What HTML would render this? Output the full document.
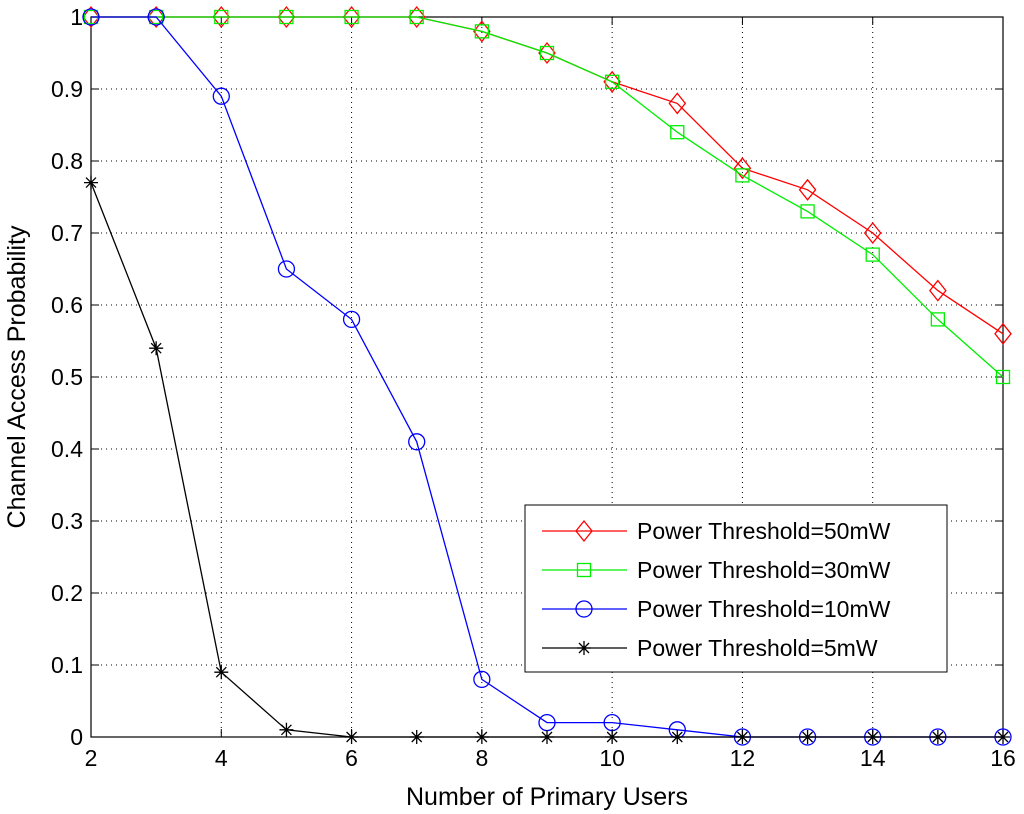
<!DOCTYPE html>
<html><head><meta charset="utf-8"><style>
html,body{margin:0;padding:0;background:#fff;}
svg{display:block;font-family:"Liberation Sans",Arial,sans-serif;}
</style></head><body>
<svg id="chart" width="1024" height="814" xmlns="http://www.w3.org/2000/svg"></svg>
<script>
const categories=[2,3,4,5,6,7,8,9,10,11,12,13,14,15,16];
const s50=[1,1,1,1,1,1,0.98,0.95,0.91,0.88,0.79,0.76,0.70,0.62,0.56];
const s30=[1,1,1,1,1,1,0.98,0.95,0.91,0.84,0.78,0.73,0.67,0.58,0.50];
const s10=[1,1,0.89,0.65,0.58,0.41,0.08,0.02,0.02,0.01,0,0,0,0,0];
const s5=[0.77,0.54,0.09,0.01,0,0,0,0,0,0,0,0,0,0,0];
const xTicks=[2,4,6,8,10,12,14,16];
const yTicks=[0,0.1,0.2,0.3,0.4,0.5,0.6,0.7,0.8,0.9,1];
const yTickLabels=["0","0.1","0.2","0.3","0.4","0.5","0.6","0.7","0.8","0.9","1"];
const seriesNames=["Power Threshold=50mW","Power Threshold=30mW","Power Threshold=10mW","Power Threshold=5mW"];

const L=91,R=1003,T=17,B=737;
const X=v=>L+(v-2)/(16-2)*(R-L);
const Y=v=>B-v*(B-T);
const NS="http://www.w3.org/2000/svg";
const svg=document.getElementById('chart');
function mk(tag,attrs,parent){const e=document.createElementNS(NS,tag);for(const k in attrs)e.setAttribute(k,attrs[k]);(parent||svg).appendChild(e);return e;}

xTicks.forEach(t=>{if(t>2&&t<16){const g=mk('line',{x1:X(t),x2:X(t),y1:T,y2:B,stroke:'#000','stroke-width':1,'stroke-dasharray':'1,4'});

}});
yTicks.forEach(t=>{if(t>0&&t<1){const g=mk('line',{x1:L,x2:R,y1:Y(t),y2:Y(t),stroke:'#000','stroke-width':1,'stroke-dasharray':'1,4'});

}});
const frame=mk('rect',{x:L,y:T,width:R-L,height:B-T,fill:'none',stroke:'#000','stroke-width':1.2});


xTicks.forEach(t=>{
 mk('line',{x1:X(t),x2:X(t),y1:B,y2:B-8,stroke:'#000'});
 mk('line',{x1:X(t),x2:X(t),y1:T,y2:T+8,stroke:'#000'});
 const tx=mk('text',{x:X(t),y:B+29,'font-size':23,'text-anchor':'middle'});tx.textContent=t;
 
 
});
yTicks.forEach((t,i)=>{
 mk('line',{x1:L,x2:L+8,y1:Y(t),y2:Y(t),stroke:'#000'});
 mk('line',{x1:R,x2:R-8,y1:Y(t),y2:Y(t),stroke:'#000'});
 const tx=mk('text',{x:L-8,y:Y(t)+8,'font-size':23,'text-anchor':'end'});tx.textContent=yTickLabels[i];
 
 
});
const xt=mk('text',{x:(L+R)/2,y:805,'font-size':25,'text-anchor':'middle'});xt.textContent='Number of Primary Users';


const yt=mk('text',{x:0,y:0,'font-size':25,'text-anchor':'middle',transform:`translate(25,${(T+B)/2}) rotate(-90)`});yt.textContent='Channel Access Probability';



function marker(type,x,y,color,g){
 if(type==='d')mk('polygon',{points:`${x},${y-10} ${x+8},${y} ${x},${y+10} ${x-8},${y}`,fill:'none',stroke:color,'stroke-width':1.3},g);
 else if(type==='s')mk('rect',{x:x-6.5,y:y-6.5,width:13,height:13,fill:'none',stroke:color,'stroke-width':1.3},g);
 else if(type==='o')mk('circle',{cx:x,cy:y,r:8,fill:'none',stroke:color,'stroke-width':1.3},g);
 else {mk('path',{d:`M${x-7},${y}H${x+7}M${x},${y-7}V${y+7}M${x-5},${y-5}L${x+5},${y+5}M${x-5},${y+5}L${x+5},${y-5}`,stroke:color,'stroke-width':1.3},g);}
}
const series=[[s50,'#ff0000','d'],[s30,'#00ee00','s'],[s10,'#0000ff','o'],[s5,'#000','*']];
const names=['series-50mw','series-30mw','series-10mw','series-5mw'];
series.forEach(([d,c,m],i)=>{
 const g=mk('g',{});
 
 
 mk('polyline',{points:d.map((v,j)=>X(categories[j])+','+Y(v)).join(' '),fill:'none',stroke:c,'stroke-width':1.3},g);
 d.forEach((v,j)=>marker(m,X(categories[j]),Y(v),c,g));
});
const lg=mk('g',{});


mk('rect',{x:525,y:505,width:422,height:167,fill:'#fff',stroke:'#000','stroke-width':1},lg);
series.forEach(([d,c,m],i)=>{
 const y=531+i*39;
 const e=mk('g',{},lg);
 
 
 mk('line',{x1:542,x2:627,y1:y,y2:y,stroke:c,'stroke-width':1.3},e);
 marker(m,584,y,c,e);
 const t=mk('text',{x:637,y:y+8,'font-size':23},e);t.textContent=seriesNames[i];
});
</script>
</body></html>
